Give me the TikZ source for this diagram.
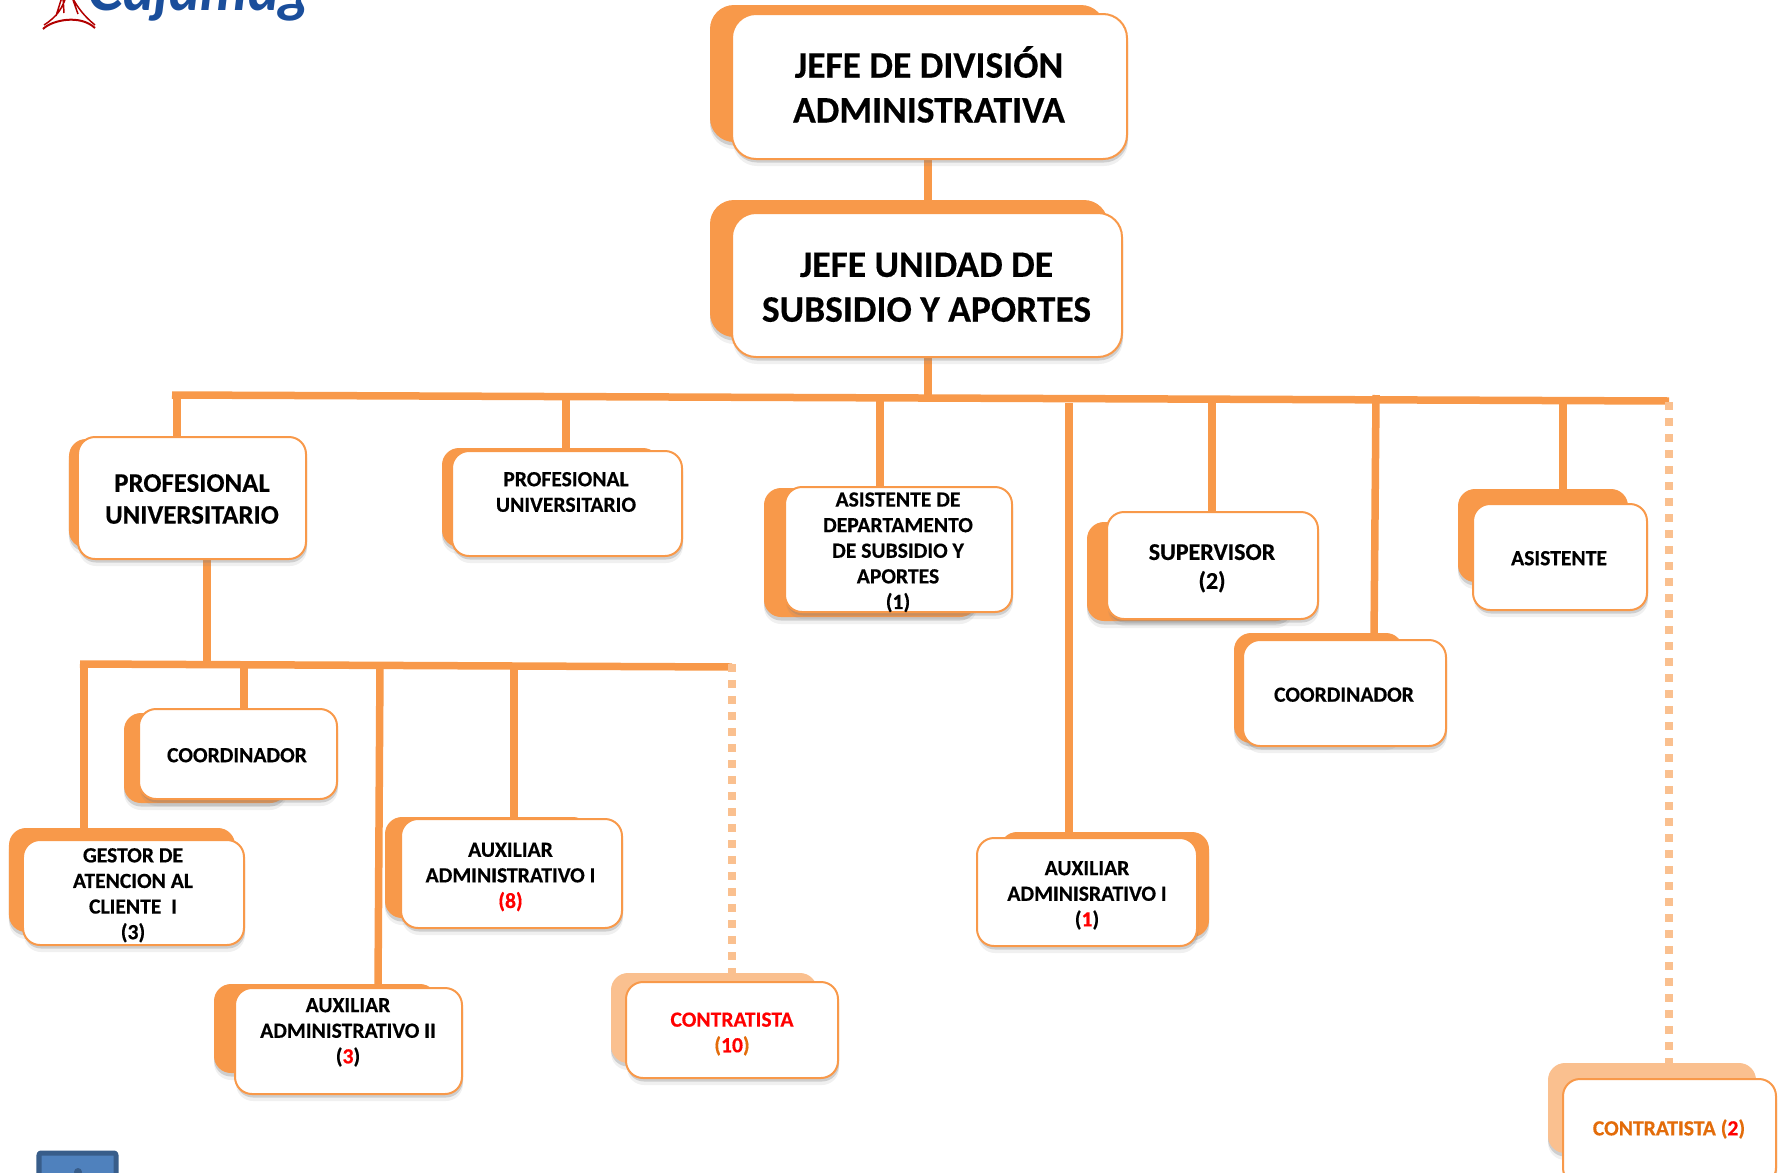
\documentclass[tikz,border=0pt]{standalone}
\usepackage{fontspec}
\setmainfont{Carlito}[BoldFeatures={FakeBold=0.4}]
\newfontfamily\logofont{Lato}
\usetikzlibrary{shadows}
\definecolor{naranja}{HTML}{F8994A}
\definecolor{naranjaclaro}{HTML}{FAC08F}
\definecolor{naranjaosc}{HTML}{E36C0A}
\definecolor{rojo}{HTML}{FF0000}
\definecolor{azullogo}{HTML}{1A4E9B}
\definecolor{azulborde}{HTML}{385D8A}
\definecolor{azulboton}{HTML}{4F81BD}
\pgfdeclarelayer{back}
\pgfdeclarelayer{line}
\pgfsetlayers{back,line,main}
\tikzset{
  frontbox/.style={draw=naranja,line width=2bp,fill=white,rounded corners=17bp,inner sep=0pt,
    drop shadow={shadow xshift=1bp,shadow yshift=-7bp,opacity=.12},
    drop shadow={shadow xshift=1bp,shadow yshift=-3.5bp,opacity=.3}},
  backbox/.style={fill=naranja,rounded corners=17bp,inner sep=0pt,
    drop shadow={shadow xshift=0bp,shadow yshift=-7bp,opacity=.12},
    drop shadow={shadow xshift=0bp,shadow yshift=-3.5bp,opacity=.3}},
  backclaro/.style={backbox,fill=naranjaclaro},
  bigtxt/.style={font=\fontsize{37.6}{45}\selectfont\bfseries,inner sep=0pt,align=center},
  midtxt/.style={font=\fontsize{26.9}{32}\selectfont\bfseries,inner sep=0pt,align=center},
  suptxt/.style={font=\fontsize{24.1}{29}\selectfont\bfseries,inner sep=0pt,align=center},
  smalltxt/.style={font=\fontsize{21.7}{25.7}\selectfont\bfseries,inner sep=0pt,align=center},
  conn/.style={draw=naranja,line width=7.5bp},
  connfine/.style={draw=naranjaclaro,line width=8bp,dash pattern=on 8bp off 8bp},
}
\begin{document}
\begin{tikzpicture}[>=latex,line join=bevel,x=1bp,y=-1bp]
\useasboundingbox (0,0) rectangle (1785,1172);
%% back plates
\begin{pgfonlayer}{back}
\node (node_div_b) at (907.5,73.5) [backbox,rounded corners=24bp,minimum width=395bp,minimum height=137bp] {};
\node (node_uni_b) at (909,268.5) [backbox,rounded corners=24bp,minimum width=398bp,minimum height=137bp] {};
\node (node_prof_a_b) at (177,493.5) [backbox,minimum width=216bp,minimum height=109bp] {};
\node (node_prof_b_b) at (551,497.5) [backbox,minimum width=218bp,minimum height=99bp] {};
\node (node_dep_b) at (870.5,552.5) [backbox,minimum width=213bp,minimum height=129bp] {};
\node (node_sup_b) at (1190,571.5) [backbox,minimum width=206bp,minimum height=99bp] {};
\node (node_coord_b_b) at (1318.5,688) [backbox,minimum width=169bp,minimum height=110bp] {};
\node (node_asis_b) at (1543,535.5) [backbox,minimum width=170bp,minimum height=93bp] {};
\node (node_coord_a_b) at (205.5,758) [backbox,minimum width=163bp,minimum height=90bp] {};
\node (node_gestor_b) at (122,880) [backbox,minimum width=226bp,minimum height=104bp] {};
\node (node_aux_c_b) at (325.5,1028.5) [backbox,minimum width=223bp,minimum height=89bp] {};
\node (node_aux_a_b) at (487.5,867.5) [backbox,minimum width=205bp,minimum height=101bp] {};
\node (node_con_a_b) at (714,1018) [backclaro,minimum width=206bp,minimum height=90bp] {};
\node (node_aux_d_b) at (1104.5,884.5) [backbox,minimum width=209bp,minimum height=105bp] {};
\node (node_con_b_b) at (1652,1108) [backclaro,minimum width=208bp,minimum height=90bp] {};
\end{pgfonlayer}
%% boxes
\node (node_div) at (929.5,86.5) [frontbox,rounded corners=24bp,minimum width=395bp,minimum height=145bp] {};
\node (node_div_t) at (929,84.5) [bigtxt] {JEFE DE DIVISIÓN\\ADMINISTRATIVA};
\node (node_uni) at (927,285) [frontbox,rounded corners=24bp,minimum width=390bp,minimum height=144bp] {};
\node (node_uni_t) at (926.5,287.3) [bigtxt] {JEFE UNIDAD DE\\SUBSIDIO Y APORTES};
\node (node_prof_a) at (192,498) [frontbox,minimum width=228bp,minimum height=122bp] {};
\node (node_prof_a_t) at (192,499) [midtxt] {PROFESIONAL\\UNIVERSITARIO};
\node (node_prof_b) at (567,503.5) [frontbox,minimum width=230bp,minimum height=105bp] {};
\node (node_prof_b_t) at (566,492) [smalltxt] {PROFESIONAL\\UNIVERSITARIO};
\node (node_dep) at (898.5,549.5) [frontbox,minimum width=227bp,minimum height=125bp] {};
\node (node_dep_t) at (898,552.3) [smalltxt] {ASISTENTE DE\\DEPARTAMENTO\\DE SUBSIDIO Y\\APORTES\\(1)};
\node (node_sup) at (1212.5,565.5) [frontbox,minimum width=211bp,minimum height=107bp] {};
\node (node_sup_t) at (1212,568.3) [suptxt] {SUPERVISOR\\(2)};
\node (node_coord_b) at (1344.5,693) [frontbox,minimum width=203bp,minimum height=106bp] {};
\node (node_coord_b_t) at (1344,694.7) [smalltxt] {COORDINADOR};
\node (node_asis) at (1560,557) [frontbox,minimum width=174bp,minimum height=106bp] {};
\node (node_asis_t) at (1559,558.2) [smalltxt] {ASISTENTE};
\node (node_coord_a) at (238,754) [frontbox,minimum width=198bp,minimum height=90bp] {};
\node (node_coord_a_t) at (237,755.2) [smalltxt] {COORDINADOR};
\node (node_gestor) at (133.5,892.5) [frontbox,minimum width=221bp,minimum height=105bp] {};
\node (node_gestor_t) at (133,895.3) [smalltxt] {GESTOR DE\\ATENCION AL\\CLIENTE~~I\\(3)};
\node (node_aux_c) at (348.5,1041) [frontbox,minimum width=227bp,minimum height=106bp] {};
\node (node_aux_c_t) at (348,1032.4) [smalltxt] {AUXILIAR\\ADMINISTRATIVO II\\(\textcolor{rojo}{3})};
\node (node_aux_a) at (511.5,873.5) [frontbox,minimum width=221bp,minimum height=109bp] {};
\node (node_aux_a_t) at (510.5,877) [smalltxt] {AUXILIAR\\ADMINISTRATIVO I\\\textcolor{rojo}{(8)}};
\node (node_con_a) at (732,1030) [frontbox,minimum width=212bp,minimum height=96bp] {};
\node (node_con_a_t) at (732,1034) [smalltxt] {\textcolor{rojo}{CONTRATISTA}\\\textcolor{naranjaosc}{(}\textcolor{rojo}{10}\textcolor{naranjaosc}{)}};
\node (node_aux_d) at (1087,892) [frontbox,minimum width=220bp,minimum height=108bp] {};
\node (node_aux_d_t) at (1087,895.4) [smalltxt] {AUXILIAR\\ADMINISRATIVO I\\(\textcolor{rojo}{1})};
\node (node_con_b) at (1669.5,1132) [frontbox,minimum width=213bp,minimum height=106bp] {};
\node (node_con_b_t) at (1669,1129) [smalltxt,text=naranjaosc] {CONTRATISTA (\textcolor{rojo}{2})};
%% junctions
\coordinate (bar_a) at (172,395);
\coordinate (bar_e) at (1669,401);
\coordinate (bar_uni) at (928,398);
\coordinate (j_prof_a) at (177,395);
\coordinate (j_prof_b) at (566,397);
\coordinate (j_dep) at (880,398);
\coordinate (j_aux_d) at (1069,403);
\coordinate (j_sup) at (1212,399);
\coordinate (j_coord_b) at (1376,395);
\coordinate (e_coord_b) at (1374,640);
\coordinate (j_asis) at (1563,400);
\coordinate (sub_a) at (80,664);
\coordinate (sub_e) at (732,667);
\coordinate (sub_prof) at (207,665);
\coordinate (j_gestor) at (84,661);
\coordinate (j_coord_a) at (244,665);
\coordinate (j_aux_c) at (380,665);
\coordinate (e_aux_c) at (378,988);
\coordinate (j_aux_a) at (514,666);
%% connectors
\begin{pgfonlayer}{line}
\draw [conn] (bar_uni |- node_div.south) -- (bar_uni |- node_uni_b.north);
\draw [conn] (bar_uni |- node_uni.south) -- (bar_uni);
\draw [conn] (bar_a) -- (bar_e);
\draw [conn] (j_prof_a) -- (j_prof_a |- node_prof_a.north);
\draw [conn] (j_prof_b) -- (j_prof_b |- node_prof_b.north);
\draw [conn] (j_dep) -- (j_dep |- node_dep.north);
\draw [conn] (j_aux_d) -- (j_aux_d |- node_aux_d.north);
\draw [conn] (j_sup) -- (j_sup |- node_sup.north);
\draw [conn] (j_coord_b) -- (e_coord_b);
\draw [conn] (j_asis) -- (j_asis |- node_asis.north);
\draw [connfine] (bar_e) ++(0,1) -- (bar_e |- node_con_b.north);
\draw [conn] (sub_prof |- node_prof_a.south) -- (sub_prof);
\draw [conn] (sub_a) -- (sub_e);
\draw [conn] (j_gestor) -- (j_gestor |- node_gestor.north);
\draw [conn] (j_coord_a) -- (j_coord_a |- node_coord_a.north);
\draw [conn] (j_aux_c) -- (e_aux_c);
\draw [conn] (j_aux_a) -- (j_aux_a |- node_aux_a.north);
\draw [connfine] (sub_e) ++(0,-3) -- (sub_e |- node_con_a.north);
\end{pgfonlayer}
%% logo and button, both cut by the page edge
\begin{scope}
\clip (0,0) rectangle (1785,1172);
\node (node_logo) at (87,10) [anchor=base west,inner sep=0pt,text=azullogo,font=\fontsize{60}{60}\logofont\bfseries\itshape] {Cajamag};
\draw [red!70!black,line width=2bp] (43,29) .. controls (52,20) and (80,14) .. (95,28);
\draw [red!70!black,line width=1.5bp] (56,16) -- (62,-3) (64,13) -- (63,-3) (78,14) -- (72,-3) (44,25) .. controls (58,16) and (62,8) .. (66,-3) (95,25) .. controls (84,16) and (78,8) .. (72,-3);
\node (node_boton) at (77.5,1175) [draw=azulborde,line width=5bp,fill=azulboton,rounded corners=2bp,minimum width=77bp,minimum height=44bp,inner sep=0pt] {};
\fill [azulborde] (78,1172) circle (4bp);
\end{scope}
%
\end{tikzpicture}
\end{document}
